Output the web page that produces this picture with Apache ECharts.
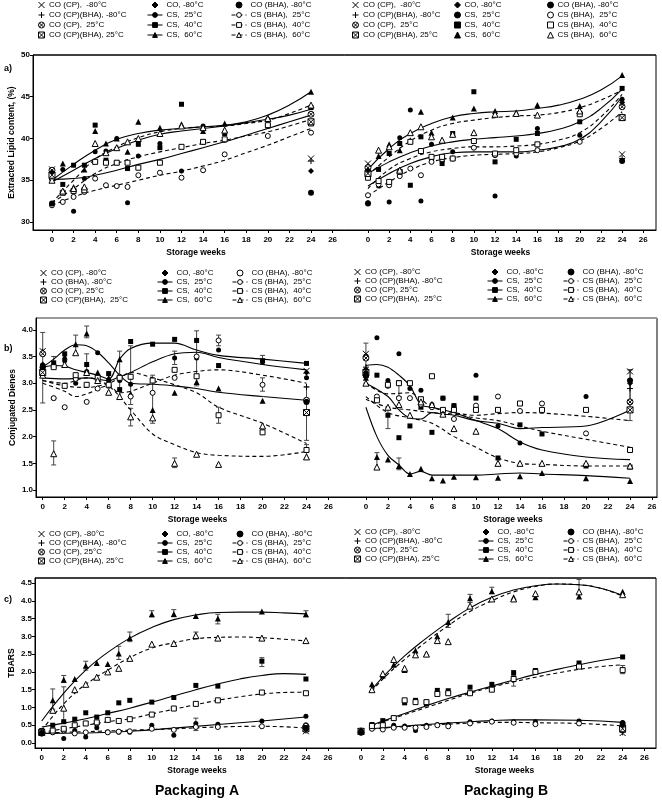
<!DOCTYPE html>
<html><head><meta charset="utf-8">
<script src="https://cdn.jsdelivr.net/npm/echarts@6/dist/echarts.min.js"></script>
<style>html,body{margin:0;padding:0;background:#fff}#c{width:662px;height:804px}</style>
</head><body><div id="c"></div>
<script>
// ---------- tick labels ----------
const xTicks = [0,2,4,6,8,10,12,14,16,18,20,22,24,26];
const yTicksA = [30,35,40,45,50];
const yTicksB = [1.0,1.5,2.0,2.5,3.0,3.5,4.0];
const yTicksC = [0.0,0.5,1.0,1.5,2.0,2.5,3.0,3.5,4.0,4.5];

// ---------- a) Extracted lipid content, Packaging A ----------
const aA_s25 = [[0,35.5],[1,36.3],[2,31.3],[3,35.2],[4,38.4],[5,38.5],[6,40.0],[7,32.3],[8,37.9],[10,39.4],[12,36.1],[14,41.5],[16,39.8],[20,42.3],[24,42.9]];
const aA_s40 = [[0,35.4],[1,34.5],[2,36.8],[3,36.8],[4,41.6],[5,37.4],[6,37.1],[7,36.4],[8,39.3],[10,38.9],[12,44.1],[14,39.6],[16,40.6],[20,41.5],[24,43.7]];
const aA_s60 = [[0,35.5],[1,37.0],[2,34.2],[3,36.3],[4,40.9],[5,39.4],[6,40.0],[7,38.4],[8,42.0],[10,41.3],[12,41.7],[14,40.9],[16,41.8],[20,42.5],[24,45.6]];
const aA_h25 = [[0,32.0],[1,32.4],[2,33.0],[3,33.6],[4,35.2],[5,34.4],[6,34.3],[7,34.2],[8,35.6],[10,35.9],[12,35.3],[14,36.2],[16,38.1],[20,40.3],[24,40.7]];
const aA_h40 = [[0,35.3],[1,33.5],[2,33.7],[3,33.8],[4,37.2],[5,37.1],[6,37.1],[7,37.1],[8,36.5],[10,37.1],[12,39.0],[14,39.6],[16,39.9],[20,41.6],[24,41.8]];
const aA_h60 = [[0,35.0],[1,33.7],[2,34.0],[3,34.2],[4,39.4],[5,38.3],[6,38.9],[7,39.6],[8,40.0],[10,40.6],[12,41.5],[14,41.3],[16,41.0],[20,42.4],[24,44.0]];
const aA_x80 = [[0,36.3],[24,37.6]];
const aA_p80 = [[0,36.0],[24,37.3]];
const aA_o25 = [[0,36.2],[24,42.9]];
const aA_q25 = [[0,35.6],[24,42.0]];
const aA_d80 = [[0,36.0],[24,36.1]];
const aA_c80 = [[0,32.2],[24,33.5]];
const aA_f25 = [[0,35.1],[2,35.2],[4,35.6],[6,36.2],[8,36.9],[10,37.5],[12,38.2],[14,38.9],[16,39.6],[18,40.4],[20,41.2],[22,42.0],[24,42.8]];
const aA_f40 = [[0,34.8],[2,36.2],[4,37.6],[6,38.8],[8,39.8],[10,40.5],[12,40.9],[14,41.2],[16,41.5],[18,41.9],[20,42.3],[22,42.8],[24,43.5]];
const aA_f60 = [[0,35.0],[2,36.9],[4,38.6],[6,39.9],[8,40.6],[10,41.0],[12,41.2],[14,41.4],[16,41.6],[18,42.0],[20,42.8],[22,44.0],[24,45.6]];
const aA_g25 = [[0,32.0],[2,33.0],[4,33.8],[6,34.4],[8,35.0],[10,35.6],[12,36.1],[14,36.7],[16,37.4],[18,38.3],[20,39.2],[22,40.2],[24,41.2]];
const aA_g40 = [[0,32.3],[2,34.0],[4,35.8],[6,37.0],[8,37.8],[10,38.4],[12,38.9],[14,39.4],[16,39.8],[18,40.3],[20,40.8],[22,41.5],[24,42.3]];
const aA_g60 = [[0,32.3],[2,35.0],[4,37.5],[6,39.0],[8,40.1],[10,40.8],[12,41.2],[14,41.4],[16,41.5],[18,41.8],[20,42.2],[22,43.0],[24,44.0]];

// ---------- a) Packaging B ----------
const aB_s25 = [[0,32.3],[1,34.3],[2,32.4],[3,40.1],[4,43.4],[5,32.5],[6,39.3],[7,37.3],[8,38.4],[10,38.9],[12,33.1],[14,37.9],[16,41.2],[20,40.4],[24,44.7]];
const aB_s40 = [[0,35.7],[1,36.3],[2,38.2],[3,39.4],[4,34.4],[5,40.2],[6,37.6],[7,37.0],[8,40.6],[10,45.6],[12,37.2],[14,39.9],[16,40.6],[20,42.0],[24,46.0]];
const aB_s60 = [[0,36.7],[1,37.9],[2,39.3],[3,38.6],[4,39.8],[5,43.2],[6,40.7],[7,39.7],[8,42.5],[10,43.6],[12,43.3],[14,43.1],[16,44.0],[20,43.9],[24,47.6]];
const aB_h25 = [[0,33.2],[1,34.5],[2,34.4],[3,35.5],[4,36.4],[5,35.6],[6,37.2],[7,37.5],[8,37.6],[10,38.9],[12,38.0],[14,38.2],[16,38.6],[20,39.6],[24,42.6]];
const aB_h40 = [[0,35.3],[1,34.9],[2,34.8],[3,36.0],[4,39.6],[5,38.5],[6,37.8],[7,37.8],[8,37.6],[10,39.7],[12,38.2],[14,38.6],[16,39.3],[20,42.9],[24,42.5]];
const aB_h60 = [[0,36.0],[1,38.6],[2,39.0],[3,36.2],[4,40.7],[5,41.4],[6,40.2],[7,39.8],[8,40.5],[10,40.7],[12,42.9],[14,43.0],[16,42.8],[20,43.3],[24,42.6]];
const aB_x80 = [[0,37.0],[24,38.1]];
const aB_p80 = [[0,36.6],[24,37.6]];
const aB_o25 = [[0,36.5],[24,43.8]];
const aB_q25 = [[0,35.8],[24,42.5]];
const aB_d80 = [[0,36.2],[24,44.3]];
const aB_c80 = [[0,32.2],[24,37.3]];
const aB_f25 = [[0,34.3],[2,35.8],[4,37.0],[6,37.8],[8,38.3],[10,38.4],[12,38.4],[14,38.4],[16,38.6],[18,39.0],[20,39.9],[22,42.0],[24,45.0]];
const aB_f40 = [[0,35.8],[2,37.2],[4,38.3],[6,39.1],[8,39.6],[10,39.9],[12,40.1],[14,40.3],[16,40.6],[18,41.1],[20,42.0],[22,43.6],[24,45.9]];
const aB_f60 = [[0,36.3],[2,38.8],[4,40.6],[6,41.8],[8,42.6],[10,43.0],[12,43.2],[14,43.3],[16,43.6],[18,44.0],[20,44.7],[22,45.8],[24,47.5]];
const aB_g25 = [[0,33.1],[2,34.8],[4,36.2],[6,37.2],[8,37.7],[10,38.0],[12,38.1],[14,38.2],[16,38.4],[18,38.9],[20,39.7],[22,41.2],[24,43.2]];
const aB_g40 = [[0,34.0],[2,36.3],[4,37.6],[6,38.4],[8,38.8],[10,39.0],[12,39.0],[14,39.1],[16,39.3],[18,39.8],[20,40.7],[22,42.6],[24,45.3]];
const aB_g60 = [[0,35.6],[2,37.8],[4,39.7],[6,41.0],[8,41.8],[10,42.2],[12,42.5],[14,42.7],[16,42.8],[18,43.1],[20,43.7],[22,44.6],[24,45.8]];

// ---------- b) Conjugated dienes, Packaging A ----------
const bA_s25 = [[0,3.3],[1,2.72],[2,3.42],[3,3.0],[4,3.22],[5,3.57],[6,3.05],[7,3.05],[8,2.98],[10,3.05],[12,3.47],[14,3.47],[16,3.62],[20,3.4],[24,3.1]];
const bA_s40 = [[0,3.32],[1,3.38],[2,3.55],[3,3.1],[4,3.35],[5,3.12],[6,3.18],[7,2.88],[8,3.78],[10,3.73],[12,3.82],[14,3.8],[16,3.33],[20,3.42],[24,3.37]];
const bA_s60 = [[0,3.6],[1,3.35],[2,3.5],[3,3.73],[4,3.93],[5,3.2],[6,3.1],[7,3.45],[8,2.8],[10,2.5],[12,2.82],[14,3.02],[16,2.9],[20,2.67],[24,1.62]];
const bA_h25 = [[0,3.55],[1,2.72],[2,2.55],[3,3.08],[4,2.65],[5,2.9],[6,2.95],[7,3.12],[8,2.75],[10,2.82],[12,3.1],[14,3.5],[16,3.8],[20,2.97],[24,2.68]];
const bA_h40 = [[0,3.22],[1,3.3],[2,2.95],[3,3.15],[4,2.97],[5,3.1],[6,2.97],[7,3.1],[8,3.12],[10,3.05],[12,3.25],[14,3.13],[16,2.4],[20,2.08],[24,1.75]];
const bA_h60 = [[0,3.15],[1,1.68],[2,3.35],[3,3.57],[4,3.2],[5,3.05],[6,2.83],[7,2.75],[8,2.37],[10,2.35],[12,1.5],[14,1.67],[16,1.48],[20,2.2],[24,1.62]];
const bA_x80 = [[0,3.6],[24,3.23]];
const bA_p80 = [[0,3.3],[24,2.93]];
const bA_o25 = [[0,3.55],[24,2.68]];
const bA_q25 = [[0,3.2],[24,2.45]];
const bA_d80 = [[0,3.35],[24,3.2]];
const bA_c80 = [[0,3.3],[24,2.65]];
const bA_f25 = [[0,3.1],[2,3.08],[4,3.1],[6,3.05],[7,3.12],[8,3.2],[10,3.4],[12,3.55],[14,3.58],[16,3.48],[20,3.35],[24,3.25]];
const bA_f40 = [[0,3.3],[1,3.33],[2,3.32],[3,3.25],[4,3.2],[5,3.15],[6,3.08],[7,3.45],[8,3.65],[10,3.75],[12,3.75],[14,3.62],[16,3.52],[20,3.45],[24,3.37]];
const bA_f60 = [[0,3.3],[1,3.45],[2,3.62],[3,3.72],[4,3.70],[5,3.58],[6,3.38],[7,3.15],[8,3.0],[10,2.98],[12,2.95],[14,2.9],[16,2.83],[20,2.75],[24,2.68]];
const bA_g25 = [[0,3.0],[2,2.85],[3,2.75],[4,2.8],[6,2.95],[7,2.82],[8,2.85],[10,3.0],[12,3.15],[14,3.22],[16,3.25],[20,3.15],[24,3.0]];
const bA_g40 = [[0,3.05],[2,2.95],[4,2.92],[6,3.0],[7,3.1],[8,3.2],[10,3.1],[12,2.97],[14,2.82],[16,2.55],[20,2.25],[24,1.87]];
const bA_g60 = [[0,3.05],[2,3.0],[4,3.1],[6,2.95],[8,2.5],[10,2.05],[12,1.85],[14,1.7],[16,1.65],[20,1.63],[24,1.72]];
const bA_err = [[0,2.63,3.95],[1,1.47,1.92],[1,3.3,3.5],[3,3.55,3.9],[4,3.85,4.07],[4,3.2,3.55],[7,2.7,3.6],[8,2.2,2.53],[8,2.6,3.7],[10,2.25,3.15],[12,1.42,1.6],[12,3.35,3.6],[14,2.95,3.98],[16,2.25,2.55],[16,3.7,3.9],[20,2.85,3.1],[20,3.35,3.52],[24,1.93,2.93],[24,1.6,1.85]];

// ---------- b) Packaging B ----------
const bB_s25 = [[0,3.25],[1,3.85],[2,3.05],[3,3.55],[4,2.9],[5,2.87],[6,2.6],[7,2.72],[8,2.58],[10,3.15],[12,2.2],[14,1.88],[16,2.5],[20,2.75],[24,3.05]];
const bB_s40 = [[0,3.2],[1,3.15],[2,2.4],[3,1.98],[4,2.2],[5,2.55],[6,2.08],[7,2.72],[8,2.58],[10,2.72],[12,1.6],[14,2.22],[16,2.05],[20,1.45],[24,1.43]];
const bB_s60 = [[0,3.1],[1,1.62],[2,1.57],[3,1.45],[4,1.3],[5,1.4],[6,1.22],[7,1.18],[8,1.25],[10,1.24],[12,1.23],[14,1.26],[16,1.32],[20,1.22],[24,1.17]];
const bB_h25 = [[0,3.5],[1,2.75],[2,2.95],[3,2.72],[4,2.72],[5,2.6],[6,2.55],[7,2.45],[8,2.33],[10,2.58],[12,2.75],[14,2.48],[16,2.62],[20,2.06],[24,2.65]];
const bB_h40 = [[0,3.15],[1,2.68],[2,2.97],[3,3.0],[4,3.0],[5,2.7],[6,3.13],[7,2.5],[8,2.5],[10,2.5],[12,2.5],[14,2.62],[16,2.5],[20,2.5],[24,1.75]];
const bB_h60 = [[0,3.0],[1,1.43],[2,2.55],[3,2.6],[4,2.4],[5,2.65],[6,2.6],[7,2.42],[8,2.15],[10,2.1],[12,1.5],[14,1.5],[16,1.5],[20,1.5],[24,1.45]];
const bB_x80 = [[0,3.55],[24,3.22]];
const bB_p80 = [[0,3.3],[24,2.9]];
const bB_o25 = [[0,3.47],[24,2.65]];
const bB_q25 = [[0,3.2],[24,2.5]];
const bB_d80 = [[0,3.2],[24,3.0]];
const bB_c80 = [[0,3.15],[24,3.05]];
const bB_f25 = [[0,3.0],[2,2.75],[3,2.5],[4,2.35],[5,2.33],[6,2.45],[7,2.42],[8,2.4],[10,2.3],[12,2.25],[14,2.15],[16,2.17],[20,2.2],[24,2.5]];
const bB_f40 = [[0,3.33],[1,3.35],[2,3.3],[3,3.15],[4,2.95],[5,2.6],[6,2.55],[7,2.5],[8,2.45],[10,2.3],[12,2.15],[14,1.9],[16,1.75],[20,1.62],[24,1.57]];
const bB_f60 = [[0,2.55],[1,2.0],[2,1.65],[3,1.47],[4,1.3],[5,1.35],[6,1.28],[8,1.28],[10,1.28],[12,1.3],[14,1.32],[16,1.3],[20,1.27],[24,1.22]];
const bB_g25 = [[0,3.0],[2,2.8],[4,2.82],[5,2.7],[6,2.55],[8,2.45],[10,2.4],[12,2.43],[14,2.45],[16,2.44],[20,2.38],[24,2.3]];
const bB_g40 = [[0,2.7],[2,2.55],[4,2.5],[6,2.45],[8,2.42],[10,2.35],[12,2.3],[14,2.2],[16,2.1],[20,1.95],[24,1.8]];
const bB_g60 = [[0,2.75],[2,2.45],[4,2.35],[6,2.25],[8,2.0],[10,1.8],[12,1.6],[14,1.5],[16,1.48],[20,1.45],[24,1.45]];
const bB_err = [[0,3.0,3.75],[1,1.4,1.7],[2,2.15,2.55],[3,1.38,1.6],[3,2.75,3.05],[24,2.3,3.25],[24,2.45,3.25]];

// ---------- c) TBARS, Packaging A ----------
const cA_s25 = [[0,0.3],[1,0.3],[2,0.13],[3,0.35],[4,0.17],[5,0.43],[6,0.32],[7,0.3],[8,0.3],[10,0.5],[12,0.22],[14,0.55],[16,0.53],[20,0.62],[24,0.75]];
const cA_s40 = [[0,0.35],[1,0.5],[2,0.6],[3,0.67],[4,0.85],[5,0.73],[6,0.85],[7,1.13],[8,1.2],[10,1.15],[12,1.28],[14,1.62],[16,1.6],[20,2.3],[24,1.8]];
const cA_s60 = [[1,1.2],[2,1.78],[3,1.8],[4,2.17],[5,2.25],[6,2.22],[7,2.52],[8,2.95],[10,3.62],[12,3.63],[14,3.57],[16,3.5],[20,3.7],[24,3.62]];
const cA_h25 = [[0,0.27],[1,0.3],[2,0.35],[3,0.27],[4,0.3],[5,0.55],[6,0.3],[7,0.32],[8,0.33],[10,0.4],[12,0.37],[14,0.45],[16,0.45],[20,0.47],[24,0.5]];
const cA_h40 = [[0,0.3],[1,0.35],[2,0.4],[3,0.5],[4,0.55],[5,0.58],[6,0.65],[7,0.62],[8,0.67],[10,0.8],[12,0.97],[14,1.1],[16,1.2],[20,1.42],[24,1.4]];
const cA_h60 = [[1,0.92],[2,0.98],[3,1.5],[4,1.65],[5,1.85],[6,2.0],[7,2.1],[8,2.38],[10,2.78],[12,2.8],[14,3.02],[16,2.95],[20,2.95],[24,2.88]];
const cA_x80 = [[0,0.28],[24,0.33]];
const cA_p80 = [[0,0.3],[24,0.35]];
const cA_o25 = [[0,0.32],[24,0.47]];
const cA_q25 = [[0,0.3],[24,0.4]];
const cA_d80 = [[0,0.3],[24,0.38]];
const cA_c80 = [[0,0.27],[24,0.42]];
const cA_f25 = [[0,0.27],[4,0.28],[8,0.33],[12,0.42],[16,0.52],[20,0.62],[24,0.73]];
const cA_f40 = [[0,0.45],[2,0.56],[4,0.68],[6,0.83],[8,0.98],[10,1.15],[12,1.32],[14,1.5],[16,1.66],[18,1.8],[20,1.9],[22,1.95],[24,1.93]];
const cA_f60 = [[0,0.62],[2,1.4],[4,2.05],[6,2.55],[8,2.95],[10,3.25],[12,3.47],[14,3.6],[16,3.67],[18,3.68],[20,3.68],[22,3.66],[24,3.63]];
const cA_g25 = [[0,0.28],[4,0.32],[8,0.36],[12,0.4],[16,0.45],[20,0.47],[24,0.42]];
const cA_g40 = [[0,0.3],[2,0.4],[4,0.5],[6,0.6],[8,0.68],[10,0.82],[12,0.95],[14,1.08],[16,1.2],[18,1.3],[20,1.38],[22,1.42],[24,1.43]];
const cA_g60 = [[0,0.35],[1,0.75],[2,1.1],[3,1.4],[4,1.65],[6,2.05],[8,2.4],[10,2.67],[12,2.82],[14,2.93],[16,2.97],[18,2.98],[20,2.96],[22,2.92],[24,2.87]];
const cA_err = [[1,0.95,1.52],[2,0.6,1.58],[2,1.7,1.9],[4,2.05,2.3],[7,2.35,2.72],[8,2.85,3.12],[10,3.55,3.72],[12,3.55,3.75],[14,2.93,3.12],[14,0.35,0.7],[16,3.35,3.62],[20,2.15,2.4],[24,3.55,3.72]];

// ---------- c) Packaging B ----------
const cB_s25 = [[0,0.32],[1,0.4],[2,0.4],[3,0.5],[4,0.48],[5,0.35],[6,0.5],[7,0.52],[8,0.52],[10,0.6],[12,0.62],[14,0.6],[16,0.6],[20,0.62],[24,0.58]];
const cB_s40 = [[1,0.52],[2,0.63],[3,0.7],[4,1.13],[5,1.2],[6,1.1],[7,1.48],[8,1.47],[10,1.57],[12,1.65],[14,1.98],[16,2.04],[20,2.25],[24,2.42]];
const cB_s60 = [[1,1.65],[2,1.9],[3,2.2],[4,2.05],[5,2.6],[6,2.52],[7,3.0],[8,3.4],[10,4.07],[12,4.27],[14,4.1],[16,4.1],[20,4.12],[24,4.25]];
const cB_h25 = [[0,0.3],[1,0.4],[2,0.38],[3,0.43],[4,0.43],[5,0.43],[6,0.45],[7,0.5],[8,0.47],[10,0.55],[12,0.6],[14,0.57],[16,0.53],[20,0.55],[24,0.48]];
const cB_h40 = [[1,0.48],[2,0.5],[3,0.7],[4,1.2],[5,1.15],[6,1.15],[7,1.38],[8,1.4],[10,1.4],[12,1.5],[14,1.8],[16,2.0],[20,2.15],[24,2.05]];
const cB_h60 = [[1,1.5],[2,1.95],[3,2.35],[4,2.1],[5,2.48],[6,2.5],[7,2.88],[8,2.85],[10,3.85],[12,4.05],[14,4.05],[16,4.2],[20,4.25],[24,4.17]];
const cB_x80 = [[0,0.33],[24,0.28]];
const cB_p80 = [[0,0.35],[24,0.3]];
const cB_o25 = [[0,0.3],[24,0.45]];
const cB_q25 = [[0,0.33],[24,0.4]];
const cB_d80 = [[0,0.35],[24,0.5]];
const cB_c80 = [[0,0.3],[24,0.55]];
const cB_f25 = [[1,0.4],[2,0.43],[4,0.48],[6,0.52],[8,0.56],[10,0.6],[12,0.63],[14,0.65],[16,0.65],[20,0.64],[24,0.58]];
const cB_f40 = [[1,0.5],[2,0.62],[4,0.83],[6,1.05],[8,1.25],[10,1.43],[12,1.6],[14,1.77],[16,1.93],[18,2.07],[20,2.2],[22,2.32],[24,2.42]];
const cB_f60 = [[1,1.5],[2,1.85],[4,2.45],[6,2.95],[8,3.4],[10,3.8],[12,4.1],[14,4.3],[16,4.42],[18,4.47],[20,4.45],[22,4.35],[24,4.15]];
const cB_g25 = [[1,0.39],[2,0.42],[4,0.46],[6,0.5],[8,0.53],[10,0.56],[12,0.58],[14,0.58],[16,0.57],[20,0.55],[24,0.48]];
const cB_g40 = [[1,0.48],[2,0.6],[4,0.8],[6,1.0],[8,1.2],[10,1.4],[12,1.57],[14,1.72],[16,1.85],[18,1.97],[20,2.07],[22,2.15],[24,2.2]];
const cB_g60 = [[1,1.45],[2,1.8],[4,2.35],[6,2.85],[8,3.3],[10,3.7],[12,4.0],[14,4.25],[16,4.4],[18,4.47],[20,4.45],[22,4.35],[24,4.13]];
const cB_err = [[8,3.25,3.62],[10,3.95,4.18],[12,4.2,4.38],[14,1.6,1.9],[20,4.2,4.6],[24,1.95,2.18]];

// ---------- legend labels ----------
const leg1_a = ['CO (CP),  -80°C','CO (CP)(BHA), -80°C','CO (CP),  25°C','CO (CP)(BHA), 25°C'];
const leg1_bA = ['CO (CP), -80°C','CO (BHA), -80°C','CO (CP), 25°C','CO (CP)(BHA),  25°C'];
const leg1_bB = ['CO (CP), -80°C','CO (CP)(BHA), -80°C','CO (CP), 25°C','CO (CP)(BHA),  25°C'];
const leg1_c = ['CO (CP), -80°C','CO (CP)(BHA), -80°C','CO (CP), 25°C','CO (CP)(BHA), 25°C'];
const leg2 = ['CO, -80°C','CS,  25°C','CS,  40°C','CS,  60°C'];
const leg3 = ['CO (BHA), -80°C','CS (BHA),  25°C','CS (BHA),  40°C','CS (BHA),  60°C'];

// ---------- styling ----------
const FONT = 'Liberation Sans';
const SYM = {
  x80: 'path://M0,0L10,10M10,0L0,10',
  p80: 'path://M5,0L5,10M0,5L10,5',
  o25: 'path://M0,5A5,5,0,1,0,10,5A5,5,0,1,0,0,5ZM1.6,1.6L8.4,8.4M8.4,1.6L1.6,8.4',
  q25: 'path://M0,0L10,0L10,10L0,10ZM0,0L10,10M10,0L0,10',
  d80: 'path://M5,0L10,5L5,10L0,5Z',
  c80: 'circle'
};
const CS_SYM = {25:'circle',40:'rect',60:'triangle'};
const CS_SIZE = {25:5,40:5,60:6};

const panels = [
  {id:'aA', g:0, legendLine:true, leg1:leg1_a,
   pts:{s25:aA_s25,s40:aA_s40,s60:aA_s60,h25:aA_h25,h40:aA_h40,h60:aA_h60},
   co:{x80:aA_x80,p80:aA_p80,o25:aA_o25,q25:aA_q25,d80:aA_d80,c80:aA_c80},
   fit:{s25:aA_f25,s40:aA_f40,s60:aA_f60,h25:aA_g25,h40:aA_g40,h60:aA_g60}, err:null},
  {id:'aB', g:1, legendLine:false, leg1:leg1_a,
   pts:{s25:aB_s25,s40:aB_s40,s60:aB_s60,h25:aB_h25,h40:aB_h40,h60:aB_h60},
   co:{x80:aB_x80,p80:aB_p80,o25:aB_o25,q25:aB_q25,d80:aB_d80,c80:aB_c80},
   fit:{s25:aB_f25,s40:aB_f40,s60:aB_f60,h25:aB_g25,h40:aB_g40,h60:aB_g60}, err:null},
  {id:'bA', g:2, legendLine:true, leg1:leg1_bA,
   pts:{s25:bA_s25,s40:bA_s40,s60:bA_s60,h25:bA_h25,h40:bA_h40,h60:bA_h60},
   co:{x80:bA_x80,p80:bA_p80,o25:bA_o25,q25:bA_q25,d80:bA_d80,c80:bA_c80},
   fit:{s25:bA_f25,s40:bA_f40,s60:bA_f60,h25:bA_g25,h40:bA_g40,h60:bA_g60}, err:bA_err, smooth:0.35},
  {id:'bB', g:3, legendLine:true, leg1:leg1_bB,
   pts:{s25:bB_s25,s40:bB_s40,s60:bB_s60,h25:bB_h25,h40:bB_h40,h60:bB_h60},
   co:{x80:bB_x80,p80:bB_p80,o25:bB_o25,q25:bB_q25,d80:bB_d80,c80:bB_c80},
   fit:{s25:bB_f25,s40:bB_f40,s60:bB_f60,h25:bB_g25,h40:bB_g40,h60:bB_g60}, err:bB_err, smooth:0.35},
  {id:'cA', g:4, legendLine:true, leg1:leg1_c,
   pts:{s25:cA_s25,s40:cA_s40,s60:cA_s60,h25:cA_h25,h40:cA_h40,h60:cA_h60},
   co:{x80:cA_x80,p80:cA_p80,o25:cA_o25,q25:cA_q25,d80:cA_d80,c80:cA_c80},
   fit:{s25:cA_f25,s40:cA_f40,s60:cA_f60,h25:cA_g25,h40:cA_g40,h60:cA_g60}, err:cA_err},
  {id:'cB', g:5, legendLine:true, leg1:leg1_c,
   pts:{s25:cB_s25,s40:cB_s40,s60:cB_s60,h25:cB_h25,h40:cB_h40,h60:cB_h60},
   co:{x80:cB_x80,p80:cB_p80,o25:cB_o25,q25:cB_q25,d80:cB_d80,c80:cB_c80},
   fit:{s25:cB_f25,s40:cB_f40,s60:cB_f60,h25:cB_g25,h40:cB_g40,h60:cB_g60}, err:cB_err}
];

// layout of grids: [left, top, width, height, xmin, xmax, ymin, ymax, xNameShift]
const gridBox = [
  [33,55,312,175,-1.76,27.15,29.04,50,14],
  [345,55,311,175,-2.17,27.2,29.04,50,0],
  [36,318,309,179,-0.61,27.5,0.87,4.22,14],
  [345,318,312,179,-1.9,26.45,0.87,4.22,24],
  [35,578,310,170,-0.61,27.55,-0.14,4.64,14],
  [345,578,311,170,-1.47,27.06,-0.14,4.64,8]
];
// legend column positions per panel: [top, col1Left, col2Left, col3Left]
const legendPos = {
  aA:[1,38,147,231], aB:[1,352,454,547],
  bA:[269,40,157,232], bB:[268,354,487,563],
  cA:[530,38,157,232], cB:[528,354,478,563]
};

const grids = gridBox.map(b => ({left:b[0], top:b[1], width:b[2], height:b[3], containLabel:false}));
const labelStyle = {fontSize:8, fontWeight:'bold', color:'#000', fontFamily:FONT};
const xAxes = gridBox.map((b,i) => ({
  type:'value', gridIndex:i, min:b[4], max:b[5],
  axisLine:{show:true, onZero:false, lineStyle:{color:'#000', width:1}},
  axisTick:{show:true, customValues:xTicks, length:3, lineStyle:{color:'#000'}},
  axisLabel:Object.assign({customValues:xTicks, margin:6}, labelStyle),
  splitLine:{show:false},
  name:'Storage weeks', nameLocation:'middle', nameGap:18,
  nameTextStyle:Object.assign({}, labelStyle, {fontSize:8.5, padding:[0,0,0,b[8]]})
}));
const yNames = ['Extracted Lipid content, (%)','Conjugated Dienes','TBARS'];
const yTickSets = [yTicksA, yTicksB, yTicksC];
const yAxes = gridBox.map((b,i) => {
  const row = Math.floor(i/2), left = i%2===0;
  const ax = {type:'value', gridIndex:i, min:b[6], max:b[7], splitLine:{show:false}};
  if (!left) { ax.show = false; return ax; }
  return Object.assign(ax, {
    axisLine:{show:true, onZero:false, lineStyle:{color:'#000'}},
    axisTick:{show:true, customValues:yTickSets[row], length:3, lineStyle:{color:'#000'}},
    axisLabel:Object.assign({customValues:yTickSets[row], margin:3,
      formatter: v => row===0 ? String(Math.round(v)) : v.toFixed(1)}, labelStyle),
    name:yNames[row], nameLocation:'middle', nameGap: row===0?17:19,
    nameTextStyle:Object.assign({}, labelStyle, {fontSize:8.5})
  });
});

const series = [];
const legends = [];
const openStyle = {color:'#fff', borderColor:'#000', borderWidth:1, opacity:1};
const fillStyle = {color:'#000', borderColor:'#000', borderWidth:0, opacity:1};
const keys = ['s25','s40','s60','h25','h40','h60'];
function labelFor(k){ return (k[0]==='s' ? leg2 : leg3)[[25,40,60].indexOf(+k.slice(1))+1]; }

panels.forEach(p => {
  const gi = p.g;
  if (p.err) {
    series.push({type:'custom', name:p.id+'|err', xAxisIndex:gi, yAxisIndex:gi, silent:true, z:1,
      data:p.err,
      renderItem:(params, api) => {
        const x = api.value(0), lo = api.value(1), hi = api.value(2);
        const a = api.coord([x,lo]), b = api.coord([x,hi]), w = 2.5;
        const st = {stroke:'#444', lineWidth:1};
        return {type:'group', children:[
          {type:'line', shape:{x1:a[0],y1:a[1],x2:b[0],y2:b[1]}, style:st},
          {type:'line', shape:{x1:a[0]-w,y1:a[1],x2:a[0]+w,y2:a[1]}, style:st},
          {type:'line', shape:{x1:b[0]-w,y1:b[1],x2:b[0]+w,y2:b[1]}, style:st}
        ]};
      }});
  }
  keys.forEach(k => {
    const temp = +k.slice(1), open = k[0]==='h';
    const nm = p.id+'|'+labelFor(k);
    const ist = open ? openStyle : fillStyle;
    const line = {type:'line', name: p.legendLine ? nm : nm+'#fit', xAxisIndex:gi, yAxisIndex:gi,
      data:p.fit[k], smooth: p.smooth || 0.5, showSymbol:false, symbol:CS_SYM[temp], symbolSize:CS_SIZE[temp],
      itemStyle:ist, lineStyle:{color:'#000', width:1.1, opacity:1, type: open ? [4,3] : 'solid'},
      silent:true, z:2};
    const pts = {type:'scatter', name:nm, xAxisIndex:gi, yAxisIndex:gi, data:p.pts[k],
      symbol:CS_SYM[temp], symbolSize:CS_SIZE[temp], itemStyle:ist, z:3};
    if (p.legendLine) { series.push(line, pts); } else { series.push(pts, line); }
  });
  const coNames = {x80:p.id+'|'+p.leg1[0], p80:p.id+'|'+p.leg1[1], o25:p.id+'|'+p.leg1[2], q25:p.id+'|'+p.leg1[3],
                   d80:p.id+'|'+leg2[0], c80:p.id+'|'+leg3[0]};
  Object.keys(coNames).forEach(k => {
    const stroked = ['x80','p80','o25','q25'].includes(k);
    series.push({type:'scatter', name:coNames[k], xAxisIndex:gi, yAxisIndex:gi, data:p.co[k],
      symbol:SYM[k], symbolSize:6, symbolKeepAspect:true,
      itemStyle: stroked ? {color:(k==='o25'||k==='q25')?'#fff':'rgba(0,0,0,0)', borderColor:'#000', borderWidth:1, opacity:1} : fillStyle,
      z:4});
  });
  const lp = legendPos[p.id];
  const base = {orient:'vertical', top:lp[0], itemHeight:6, itemGap: p.id[0]==='a'?2:1, selectedMode:false, padding:0,
    formatter: n => n.split('|')[1],
    textStyle:{fontSize:8, color:'#000', fontFamily:FONT, padding:[0,0,0,-1]},
    itemStyle:{borderWidth:1, opacity:1}, lineStyle:{width:1, opacity:1}};
  legends.push(Object.assign({}, base, {left:lp[1], itemWidth:7,
    data:['x80','p80','o25','q25'].map(k => ({name:coNames[k]}))}));
  const col2 = [{name:coNames.d80}].concat(['s25','s40','s60'].map(k => {
      const o = {name:p.id+'|'+labelFor(k)};
      if (!p.legendLine) o.icon = CS_SYM[+k.slice(1)];
      return o; }));
  const col3 = [{name:coNames.c80, icon:'circle'}].concat(['h25','h40','h60'].map(k => {
      const o = {name:p.id+'|'+labelFor(k), itemStyle:{color:'#fff', borderColor:'#000', borderWidth:1, opacity:1}};
      if (!p.legendLine) o.icon = CS_SYM[+k.slice(1)];
      return o; }));
  legends.push(Object.assign({}, base, {left:lp[2], itemWidth: p.legendLine?15:6, data:col2}));
  legends.push(Object.assign({}, base, {left:lp[3], itemWidth: p.legendLine?15:6, data:col3}));
});

// frames & panel texts (layout only)
const frame = (x,y,w,h,topColor) => ([
  {type:'rect', shape:{x,y,width:w,height:h}, style:{fill:'none', stroke:'#000', lineWidth:1}, silent:true, z:0},
  {type:'line', shape:{x1:x,y1:y,x2:x+w,y2:y}, style:{stroke:topColor, lineWidth: topColor==='#000'?1:2}, silent:true, z:0}
]);
const graphic = [].concat(
  frame(33,55,623,175,'#000'),
  frame(36,318,621,179,'#999'),
  frame(35,578,621,170,'#000'),
  [
    {type:'text', left:4, top:64, style:{text:'a)', font:'bold 9px '+FONT, fill:'#000'}},
    {type:'text', left:4, top:344, style:{text:'b)', font:'bold 9px '+FONT, fill:'#000'}},
    {type:'text', left:4, top:595, style:{text:'c)', font:'bold 9px '+FONT, fill:'#000'}},
    {type:'text', x:197, y:791, style:{text:'Packaging A', font:'bold 14px '+FONT, fill:'#000', textAlign:'center', textVerticalAlign:'middle'}},
    {type:'text', x:506, y:791, style:{text:'Packaging B', font:'bold 14px '+FONT, fill:'#000', textAlign:'center', textVerticalAlign:'middle'}}
  ]
);

const chart = echarts.init(document.getElementById('c'), null, {renderer:'canvas'});
chart.setOption({
  animation:false,
  backgroundColor:'#fff',
  textStyle:{fontFamily:FONT},
  grid:grids, xAxis:xAxes, yAxis:yAxes,
  legend:legends, series, graphic,
  tooltip:{show:false}
});
</script></body></html>
